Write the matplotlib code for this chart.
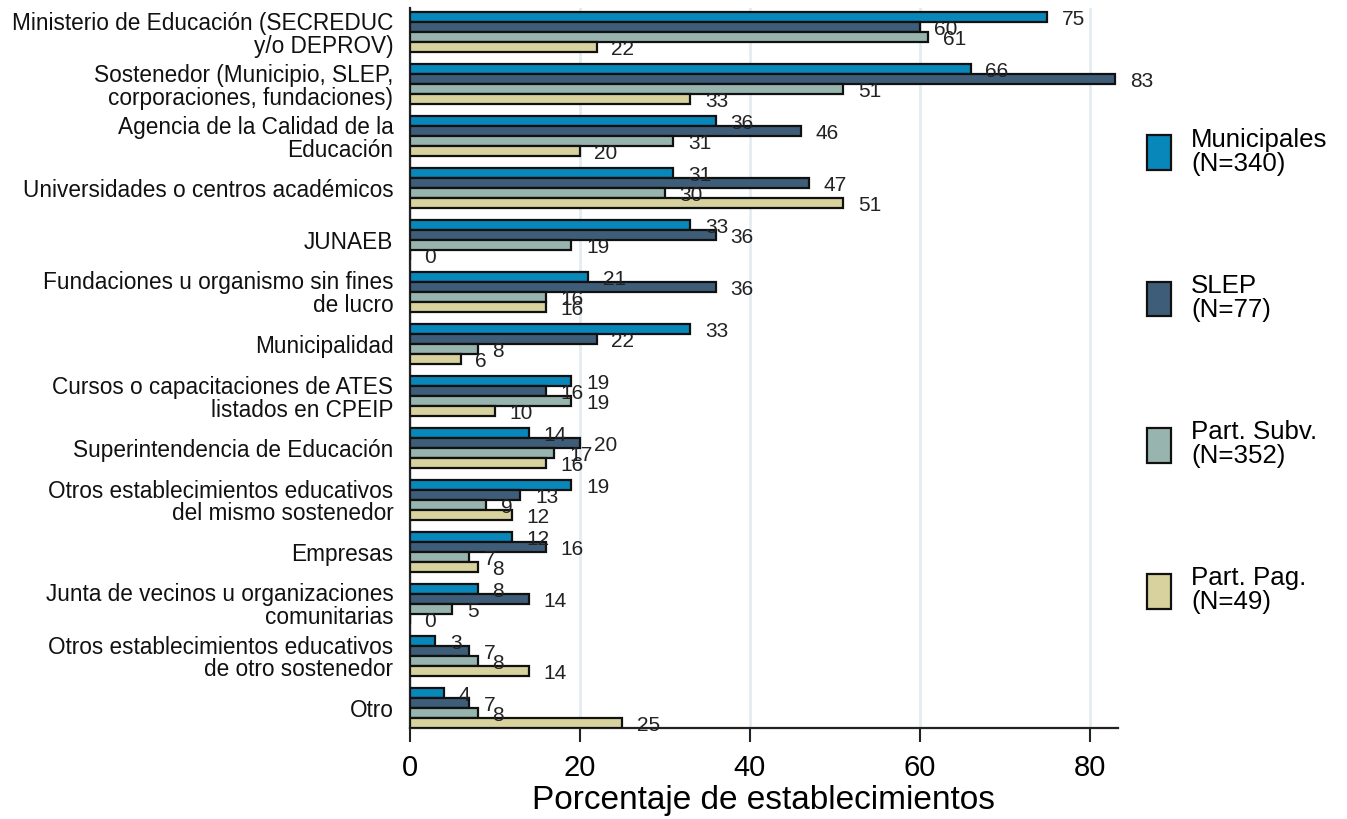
import matplotlib
matplotlib.use("Agg")
import matplotlib.pyplot as plt
from matplotlib.patches import Patch
import numpy as np

plt.rcParams["font.family"] = ["Liberation Sans", "DejaVu Sans"]

categories = [
    "Ministerio de Educación (SECREDUC\ny/o DEPROV)",
    "Sostenedor (Municipio, SLEP,\ncorporaciones, fundaciones)",
    "Agencia de la Calidad de la\nEducación",
    "Universidades o centros académicos",
    "JUNAEB",
    "Fundaciones u organismo sin fines\nde lucro",
    "Municipalidad",
    "Cursos o capacitaciones de ATES\nlistados en CPEIP",
    "Superintendencia de Educación",
    "Otros establecimientos educativos\ndel mismo sostenedor",
    "Empresas",
    "Junta de vecinos u organizaciones\ncomunitarias",
    "Otros establecimientos educativos\nde otro sostenedor",
    "Otro",
]

municipales = [75, 66, 36, 31, 33, 21, 33, 19, 14, 19, 12, 8, 3, 4]
slep = [60, 83, 46, 47, 36, 36, 22, 16, 20, 13, 16, 14, 7, 7]
part_subv = [61, 51, 31, 30, 19, 16, 8, 19, 17, 9, 7, 5, 8, 8]
part_pag = [22, 33, 20, 51, 0, 16, 6, 10, 16, 12, 8, 0, 14, 25]

series_names = ["Municipales\n(N=340)", "SLEP\n(N=77)", "Part. Subv.\n(N=352)", "Part. Pag.\n(N=49)"]
colors = ["#0887BA", "#3E5D78", "#98B4AE", "#D7D29E"]
series = [municipales, slep, part_subv, part_pag]

fig = plt.figure(figsize=(13.47, 8.19), dpi=100)
ax = fig.add_axes([410/1347, 1 - 728/819, (1118 - 410)/1347, (728 - 8)/819])

n = len(categories)
y = np.arange(n)
h = 10/52
offsets = [-1.5*h, -0.5*h, 0.5*h, 1.5*h]

for vals, col, off in zip(series, colors, offsets):
    ax.barh(y + off, vals, height=h, color=col, edgecolor="#111111", linewidth=1.6, zorder=3)
    for yi, v in zip(y, vals):
        ax.text(v + 1.7, yi + off + 0.04, f"{v:d}", va="center", ha="left",
                fontsize=15, color="#222222", zorder=4)

ax.set_ylim(13 + 20/52, -24/52)
ax.set_xlim(0, 83.3)
ax.set_yticks(y)
ax.set_yticklabels(categories, fontsize=16.3, color="#111111", linespacing=1.0)
ax.tick_params(axis="y", length=0, pad=12)
ax.set_xticks([0, 20, 40, 60, 80])
ax.tick_params(axis="x", length=10, width=1.5, labelsize=21, pad=9, color="#222222")
ax.set_xlabel("Porcentaje de establecimientos", fontsize=24, labelpad=2)
ax.grid(axis="x", color="#E3ECF0", linewidth=2, zorder=0)
ax.set_axisbelow(True)
for s in ["top", "right"]:
    ax.spines[s].set_visible(False)
for s in ["left", "bottom"]:
    ax.spines[s].set_linewidth(1.6)
    ax.spines[s].set_color("#222222")

handles = [Patch(facecolor=c, edgecolor="#111111", linewidth=1.6) for c in colors]
fig.legend(handles, series_names, loc="center left", bbox_to_anchor=(1147/1347, 1 - 371/819),
           frameon=False, fontsize=18.6, handlelength=0.92, handleheight=1.7,
           labelspacing=3.8, handletextpad=0.78, borderaxespad=0, borderpad=0)
for t in fig.legends[0].get_texts():
    t.set_linespacing(1.0)

fig.savefig("out.png", dpi=100)
